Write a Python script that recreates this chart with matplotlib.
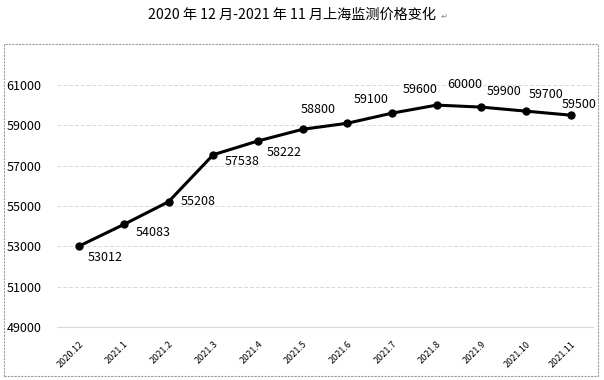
import matplotlib
matplotlib.use("Agg")
import matplotlib.pyplot as plt
from matplotlib.patches import Rectangle

plt.rcParams["font.family"] = ["Noto Sans CJK SC", "DejaVu Sans"]

months = ["2020.12", "2021.1", "2021.2", "2021.3", "2021.4", "2021.5",
          "2021.6", "2021.7", "2021.8", "2021.9", "2021.10", "2021.11"]
prices = [53012, 54083, 55208, 57538, 58222, 58800,
          59100, 59600, 60000, 59900, 59700, 59500]
yticks = [49000, 51000, 53000, 55000, 57000, 59000, 61000]

# label offsets in points (dx, dy)
offsets = [(19, -8), (21, -6), (21, 0), (21, -4.5), (19, -8),
           (11, 14), (17, 17), (20, 17), (20, 15), (16, 11), (14, 12), (6, 8)]

fig = plt.figure(figsize=(6.04, 3.80), dpi=100)
ax = fig.add_axes([0.094, 0.1395, 0.888, 0.637])

x = range(len(months))
ax.plot(x, prices, color="black", lw=2.2, marker="o", ms=5, zorder=3)
for i, v in enumerate(prices):
    ax.annotate(str(v), (i, v), xytext=offsets[i], textcoords="offset points",
                ha="center", va="center", fontsize=9, annotation_clip=False)

ax.set_xlim(-0.5, len(months) - 0.5)
ax.set_ylim(49000, 61000)
ax.set_yticks(yticks)
ax.set_xticks(list(x))
ax.set_xticklabels(months, rotation=45, fontsize=6.5, ha="right",
                   rotation_mode="anchor")
ax.tick_params(axis="y", labelsize=9, length=0, pad=11)
ax.tick_params(axis="x", length=0, pad=9)
ax.grid(axis="y", color="#d9d9d9", ls=(0, (4, 2)), lw=0.7)
ax.set_axisbelow(True)
for s in ["left", "right", "top"]:
    ax.spines[s].set_visible(False)
ax.spines["bottom"].set_color("#d9d9d9")

fig.text(0.483, 0.96, "2020 年 12 月-2021 年 11 月上海监测价格变化", ha="center",
         va="center", fontsize=10.2)
fig.text(0.729, 0.957, "↵", ha="left", va="center", fontsize=6, color="#888888")

fig.add_artist(Rectangle((4 / 604, 4 / 380), 594 / 604, 332 / 380,
                         transform=fig.transFigure, fill=False,
                         ec="#9a9a9a", lw=0.8, ls=(0, (2, 1))))

fig.savefig("out.png", dpi=100)
